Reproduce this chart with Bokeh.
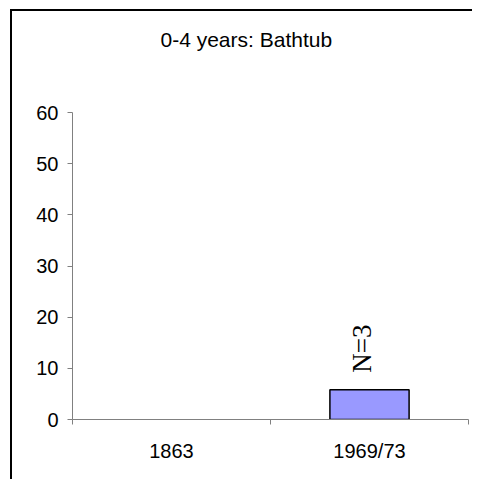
import math
from bokeh.plotting import figure
from bokeh.models import (Range1d, LinearAxis, FixedTicker, Title, ColumnDataSource)
from bokeh.core.properties import value
from bokeh.embed import file_html
from bokeh.resources import INLINE

# ---- data ----
categories = ["1863", "1969/73"]
values = [float("nan"), 5.8]
n_labels = ["", "N=3"]
title_text = "0-4 years: Bathtub"
y_ticks = [0, 10, 20, 30, 40, 50, 60]

AX = "#808080"
FONT = "Liberation Sans"

ncat = len(categories)
centers = [i + 0.5 for i in range(ncat)]
boundaries = list(range(ncat + 1))

p = figure(width=462, height=470, output_backend="svg", toolbar_location=None,
           x_range=Range1d(0, ncat), y_range=Range1d(0, 60),
           x_axis_location=None, y_axis_location=None,
           min_border_left=60, min_border_right=6, min_border_top=101, min_border_bottom=62,
           margin=(9, 0, 0, 10),
           styles={"border-left": "2px solid black", "border-top": "2px solid black"})
p.outline_line_color = None
p.xgrid.grid_line_color = None
p.ygrid.grid_line_color = None
p.background_fill_color = "white"
p.border_fill_color = "white"

# y axis
ya = LinearAxis(ticker=FixedTicker(ticks=y_ticks))
ya.axis_line_color = AX
ya.major_tick_line_color = AX
ya.major_tick_in = 0
ya.major_tick_out = 5
ya.minor_tick_line_color = None
ya.major_label_text_font = FONT
ya.major_label_text_font_size = "20px"
ya.major_label_text_color = "black"
ya.major_label_standoff = 9
p.add_layout(ya, "left")

# x axis: labels at category centres, tick marks at category boundaries
xa = LinearAxis(ticker=FixedTicker(ticks=centers, minor_ticks=boundaries),
                major_label_overrides={c: lab for c, lab in zip(centers, categories)})
xa.axis_line_color = AX
xa.major_tick_line_color = None
xa.major_tick_in = 0
xa.major_tick_out = 5
xa.minor_tick_line_color = AX
xa.minor_tick_in = 0
xa.minor_tick_out = 5
xa.major_label_text_font = FONT
xa.major_label_text_font_size = "20px"
xa.major_label_text_color = "black"
xa.major_label_standoff = 15
p.add_layout(xa, "below")

src = ColumnDataSource(dict(x=centers, top=values))
p.vbar(x="x", top="top", width=0.4, source=src, fill_color="#9999FF",
       line_color="black", line_width=1.5)

keep = [i for i, s in enumerate(n_labels) if s]
lab_src = ColumnDataSource(dict(x=[centers[i] for i in keep], top=[values[i] for i in keep],
                                lab=[n_labels[i] for i in keep]))
p.text(x="x", y="top", text="lab", source=lab_src, angle=math.pi / 2,
       text_align="left", text_baseline="middle", x_offset=-8, y_offset=-17,
       text_font=value("Liberation Serif"), text_font_size="27px", text_color="black")

# blank spacer between the plot area and the title
spacer = Title(text=" ", standoff=59, text_font=FONT, text_font_size="1px",
               text_color="white")
p.add_layout(spacer, "above")

t = Title(text=title_text, align="left", offset=88, standoff=0,
          text_font=FONT, text_font_size="21px", text_font_style="normal", text_color="black")
p.add_layout(t, "above")

open("out.html", "w").write(file_html(p, INLINE))
